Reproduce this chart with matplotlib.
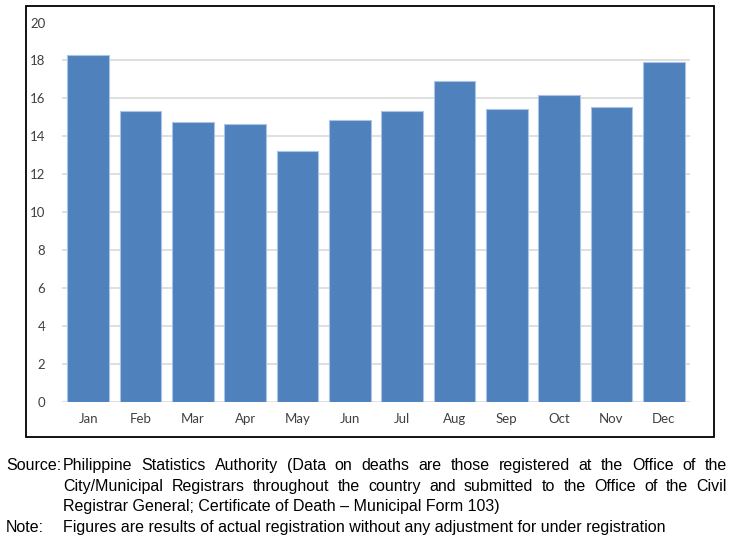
import matplotlib
matplotlib.use("Agg")
import matplotlib.pyplot as plt
from matplotlib import font_manager
from matplotlib.patches import Rectangle

months = ["Jan", "Feb", "Mar", "Apr", "May", "Jun", "Jul", "Aug", "Sep", "Oct", "Nov", "Dec"]
values = [18.31, 15.33, 14.75, 14.65, 13.22, 14.88, 15.33, 16.91, 15.47, 16.16, 15.53, 17.90]
yticks = [0, 2, 4, 6, 8, 10, 12, 14, 16, 18, 20]

source_lines = [
    "Philippine Statistics Authority (Data on deaths are those registered at the Office of the",
    "City/Municipal Registrars throughout the country and submitted to the Office of the Civil",
    "Registrar General; Certificate of Death \u2013 Municipal Form 103)",
]
note_line = "Figures are results of actual registration without any adjustment for under registration"

names = {f.name for f in font_manager.fontManager.ttflist}
narrow = "Liberation Sans Narrow" if "Liberation Sans Narrow" in names else "Liberation Sans"
tickfont = "Lato" if "Lato" in names else "DejaVu Sans"

W, H = 732, 541
fig = plt.figure(figsize=(W / 100, H / 100), dpi=100)

# outer border box
fig.patches.append(Rectangle((26 / W, 1 - 437 / H), (714 - 26) / W, (437 - 6) / H,
                             transform=fig.transFigure, fill=False, edgecolor="black",
                             linewidth=1.3, zorder=0))

ax = fig.add_axes([62 / W, 1 - 402.3 / H, (690 - 62) / W, (402.3 - 22.5) / H])
x = list(range(len(months)))
ax.bar(x, values, width=0.8, color="#4F81BD", edgecolor="#A9C4E6", linewidth=0.8, zorder=3)
ax.set_xlim(-0.5, len(months) - 0.5)
ax.set_ylim(0, 20)
ax.set_yticks(yticks)
ax.set_xticks(x)
ax.set_xticklabels(months)
ax.grid(axis="y", color="#D9D9D9", linewidth=1.2, zorder=0)
for s in ax.spines.values():
    s.set_visible(False)
ax.tick_params(axis="both", length=0, labelsize=9.5, labelcolor="#404040")
ax.tick_params(axis="x", pad=8)
ax.tick_params(axis="y", pad=12)
for lab in ax.get_xticklabels() + ax.get_yticklabels():
    lab.set_fontfamily(tickfont)

# footer text with justification
fig.canvas.draw()
renderer = fig.canvas.get_renderer()
fs = 11.5
left_px, right_px = 63, 727
base_off = 5.0

def text_width(s):
    t = fig.text(0, 0, s, fontsize=fs, family=narrow)
    w = t.get_window_extent(renderer).width
    t.remove()
    return w

def justified(line, ypx):
    words = line.split(" ")
    widths = [text_width(w) for w in words]
    gap = (right_px - left_px - sum(widths)) / (len(words) - 1)
    xp = left_px
    for w, wd in zip(words, widths):
        fig.text(xp / W, 1 - (ypx + base_off) / H, w, fontsize=fs, family=narrow,
                 va="baseline", ha="left")
        xp += wd + gap

def plain(line, ypx, xpx=left_px):
    fig.text(xpx / W, 1 - (ypx + base_off) / H, line, fontsize=fs, family=narrow,
             va="baseline", ha="left")

plain("Source:", 465, 6)
justified(source_lines[0], 465)
justified(source_lines[1], 486)
plain(source_lines[2], 506.5)
plain("Note:", 527, 6)
plain(note_line, 527)

fig.savefig("out.png", dpi=100)
